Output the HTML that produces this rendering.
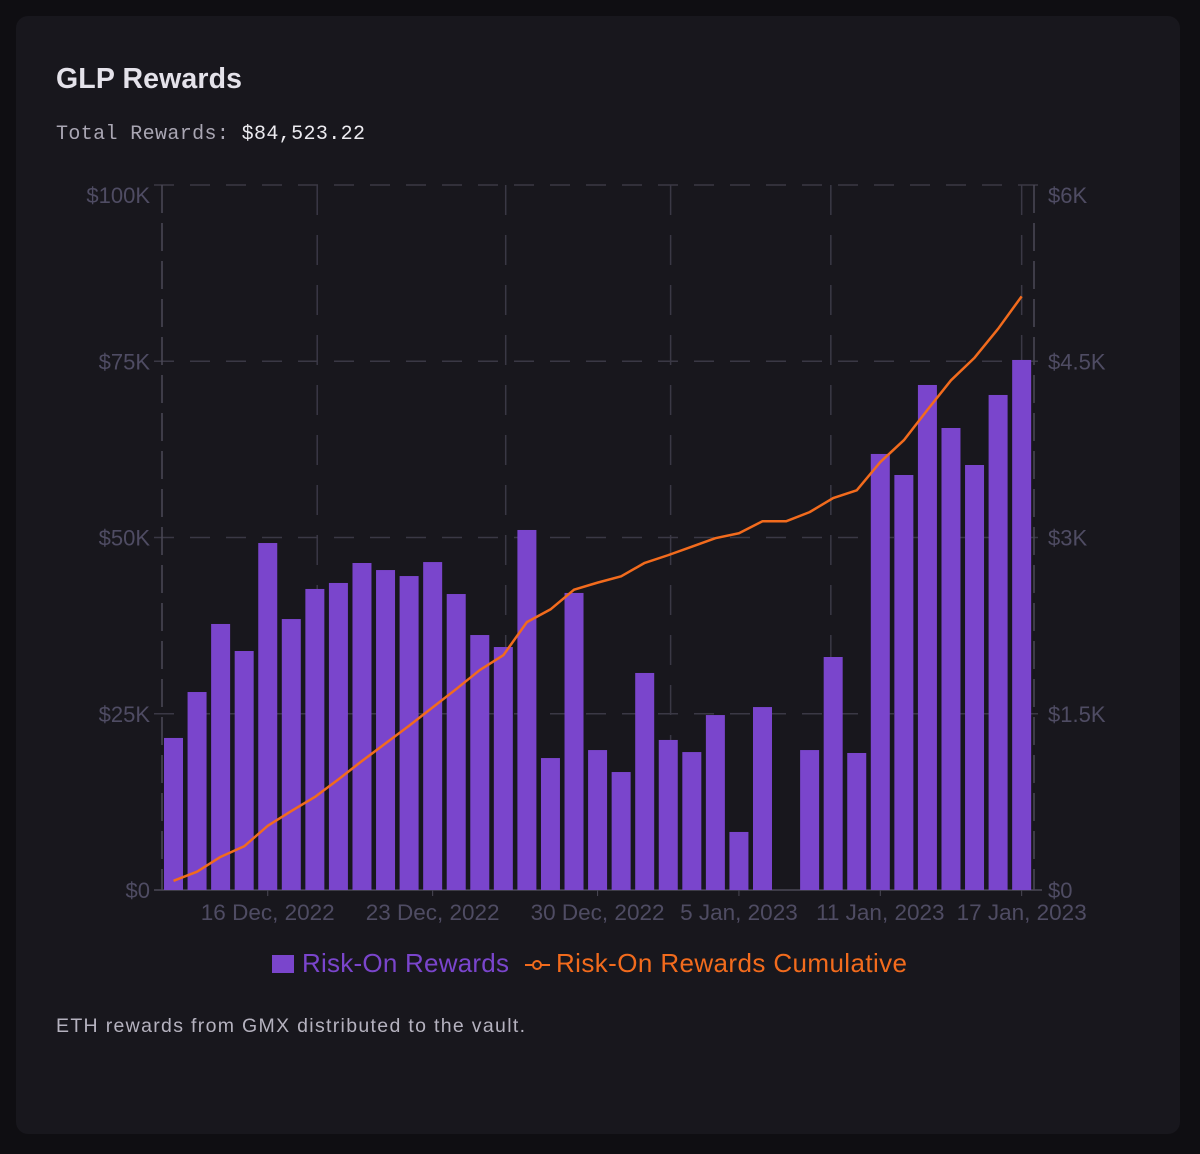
<!DOCTYPE html>
<html><head><meta charset="utf-8"><style>
body{margin:0;background:#0f0e12;width:1200px;height:1154px;overflow:hidden;font-family:"Liberation Sans",sans-serif}
.card{position:absolute;left:16px;top:16px;width:1164px;height:1118px;background:#18171d;border-radius:12px}
</style></head><body>
<div class="card"></div>
<svg width="1200" height="1154" style="position:absolute;left:0;top:0" id="chart">
<text x="56" y="88" fill="#e4e2ea" font-size="28.5" font-weight="bold" textLength="186">GLP Rewards</text>
<text x="56" y="139" fill="#a9a6b3" font-size="20" font-family="Liberation Mono, monospace" textLength="309">Total Rewards: <tspan fill="#ecebf0">$84,523.22</tspan></text>
<g id="grid"></g><g id="bars"></g><g id="line"></g><g id="axes"></g>
<g>
<rect x="272" y="955" width="22" height="18" fill="#7a45cc"/>
<text x="302" y="972" fill="#7a45cc" font-size="26" textLength="207">Risk-On Rewards</text>
<line x1="525" y1="965" x2="550" y2="965" stroke="#f26b1d" stroke-width="2"/>
<circle cx="537" cy="965" r="4" fill="#18171d" stroke="#f26b1d" stroke-width="2"/>
<text x="556" y="972" fill="#f26b1d" font-size="26" textLength="351">Risk-On Rewards Cumulative</text>
</g>
<text x="56" y="1032" fill="#b5b2bf" font-size="19.5" textLength="469">ETH rewards from GMX distributed to the vault.</text>
</svg>
<script>
const dayIndex=[...Array(37).keys()];
const barValues=[1294,1685,2264,2034,2953,2306,2562,2613,2783,2723,2672,2791,2519,2170,2068,3064,1123,2528,1191,1004,1847,1277,1174,1489,494,1557,0,1191,1983,1166,3711,3532,4298,3932,3617,4213,4511];
const cumValues=[1.3,2.6,4.7,6.2,9.1,11.2,13.2,15.7,18.3,20.8,23.3,25.9,28.5,31.2,33.3,38.0,39.8,42.6,43.6,44.5,46.4,47.5,48.7,49.9,50.6,52.3,52.3,53.6,55.6,56.7,60.7,63.8,68.1,72.3,75.5,79.6,84.2];
const leftTicks=[0,25,50,75,100];
const leftTickLabels=["$0","$25K","$50K","$75K","$100K"];
const rightTickLabels=["$0","$1.5K","$3K","$4.5K","$6K"];
const xLabels=["16 Dec, 2022","23 Dec, 2022","30 Dec, 2022","5 Jan, 2023","11 Jan, 2023","17 Jan, 2023"];
const xLabelDays=[4,11,18,24,30,36];
const gridDays=[6.1,14.1,21.1,27.9,36];
const NS="http://www.w3.org/2000/svg";
const X0=162,X1=1034,Y0=890,Y1=185,fx0=173.5,dx=23.56;
const x=d=>fx0+d*dx;
const yL=v=>Y0-v/100*(Y0-Y1);
const yR=v=>Y0-v/6000*(Y0-Y1);
function mk(t,a,p){const e=document.createElementNS(NS,t);for(const k in a)e.setAttribute(k,a[k]);document.getElementById(p).appendChild(e);return e;}
leftTicks.forEach((t,i)=>{
 const g=mk('line',{x1:X0-8,x2:X1+8,y1:yL(t),y2:yL(t),stroke:i==0?'#4a4856':'#3a3845','stroke-dasharray':i==0?'':'20 16','stroke-width':1.5},'grid');
 
 
 const ty=yL(t)+8+(i==4?10:0);
 const a=mk('text',{x:X0-12,y:ty,'text-anchor':'end',fill:'#4f4c63','font-size':22},'axes');a.textContent=leftTickLabels[i];
 
 
 const b=mk('text',{x:X1+14,y:ty,fill:'#4f4c63','font-size':22},'axes');b.textContent=rightTickLabels[i];
 
 
});
gridDays.forEach(d=>{const g=mk('line',{x1:x(d),x2:x(d),y1:Y1,y2:Y0,stroke:'#3a3845','stroke-dasharray':'30 20','stroke-width':1.5},'grid');
 
 });
[X0,X1].forEach(xx=>{const g=mk('line',{x1:xx,x2:xx,y1:Y1,y2:Y0,stroke:'#4a4856','stroke-dasharray':'28 10','stroke-width':1.5},'axes');
 
 });
dayIndex.forEach((d,i)=>{const v=barValues[i];if(!v)return;const r=mk('rect',{x:x(d)-9.5,y:yR(v),width:19,height:Y0-yR(v),fill:'#7a45cc'},'bars');
 
 });
xLabels.forEach((l,i)=>{const t=mk('text',{x:x(xLabelDays[i]),y:920,'text-anchor':'middle',fill:'#4f4c63','font-size':22.5},'axes');t.textContent=l;
 
 
 mk('line',{x1:x(xLabelDays[i]),x2:x(xLabelDays[i]),y1:Y0,y2:Y0+6,stroke:'#4a4856'},'axes');});
const p=mk('path',{d:dayIndex.map((d,i)=>(i?'L':'M')+x(d)+','+yL(cumValues[i])).join(''),fill:'none',stroke:'#f26b1d','stroke-width':2.5,'stroke-linejoin':'round'},'line');


</script>
</body></html>
